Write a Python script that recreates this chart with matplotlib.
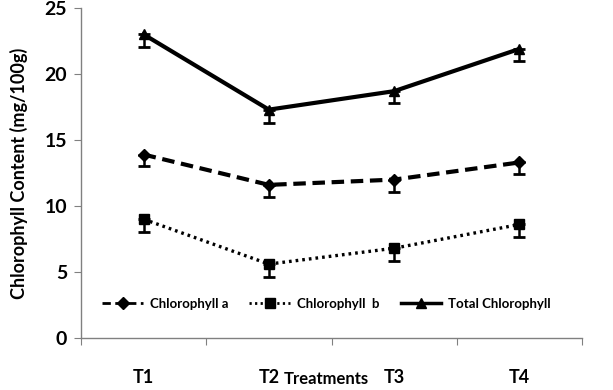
import numpy as np
import matplotlib
matplotlib.use("Agg")
import matplotlib.pyplot as plt
from matplotlib.lines import Line2D

plt.rcParams['font.family'] = ['Lato', 'DejaVu Sans']
plt.rcParams['font.weight'] = 'bold'

treatments = ['T1', 'T2', 'T3', 'T4']
chl_a = [13.9, 11.6, 12.0, 13.3]
chl_a_err = [0.9, 0.95, 0.95, 0.9]
chl_b = [9.0, 5.6, 6.8, 8.6]
chl_b_err = [1.0, 0.95, 1.0, 0.95]
total = [23.0, 17.3, 18.7, 21.9]
total_err = [0.95, 1.0, 0.9, 0.9]

x = np.arange(len(treatments)) + 0.5

fig = plt.figure(figsize=(6.13, 3.90), dpi=100)
ax = fig.add_axes([81 / 613, 52 / 390, 501 / 613, 330 / 390])

styles = [
    (chl_a, chl_a_err, (0, (3, 1.6)), 3, 'D', 6, 'Chlorophyll a'),
    (chl_b, chl_b_err, (0, (0.8, 1.2)), 2.4, 's', 7, 'Chlorophyll  b'),
    (total, total_err, '-', 3, '^', 7, 'Total Chlorophyll'),
]
handles = []
for vals, err, ls, lw, marker, ms, label in styles:
    yerr = [err, [0] * len(err)]   # only the lower bar is drawn
    ax.errorbar(x, vals, yerr=yerr, color='black', ls=ls, lw=lw,
                marker=marker, ms=ms, capsize=4, capthick=2, elinewidth=1.8)
    lw_leg = 2 if ls != '-' else 2.5
    handles.append(Line2D([], [], color='black', ls=ls, lw=lw_leg,
                          marker=marker, ms=ms, label=label))

ax.set_xlim(0, 4)
ax.set_ylim(0, 25)
ax.set_yticks([0, 5, 10, 15, 20, 25])
ax.set_xticks([0, 1, 2, 3, 4])
ax.set_xticklabels([])
ax.set_xticks(x, minor=True)
ax.set_xticklabels(treatments, minor=True)
ax.tick_params(axis='x', which='minor', length=0, pad=22, labelsize=13)
ax.tick_params(axis='x', which='major', length=5, color='#808080')
ax.tick_params(axis='y', length=5, color='#808080', labelsize=14, pad=5)

for s in ['top', 'right']:
    ax.spines[s].set_visible(False)
for s in ['left', 'bottom']:
    ax.spines[s].set_color('#808080')
    ax.spines[s].set_linewidth(1)

ax.set_ylabel('Chlorophyll Content (mg/100g)', fontsize=13, fontweight='bold', labelpad=12)
ax.text(0.49, -0.1, 'Treatments', transform=ax.transAxes, ha='center', va='top',
        fontsize=12, fontweight='bold')

ax.legend(handles=handles, loc='lower center', bbox_to_anchor=(0.49, 0.05), ncol=3,
          frameon=False, fontsize=9.5, handlelength=3.1, columnspacing=1.6,
          handletextpad=0.5)

fig.savefig('out.png', dpi=100)
